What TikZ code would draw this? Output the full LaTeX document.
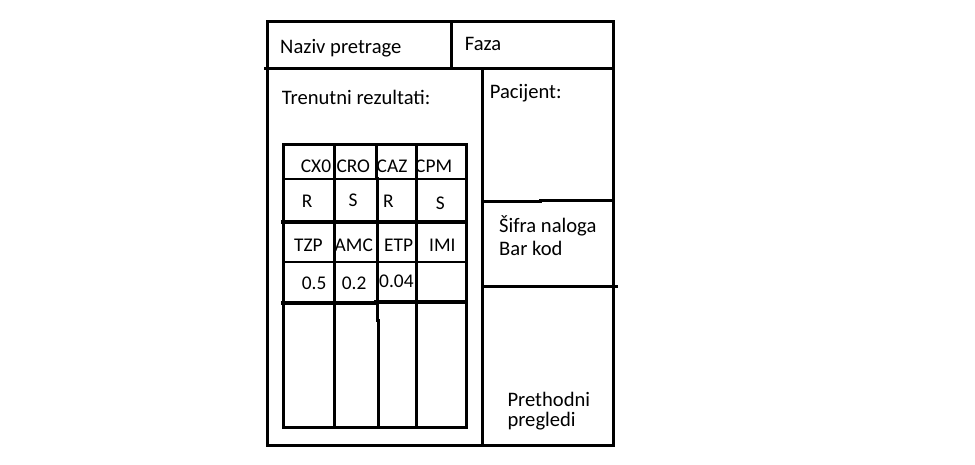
\documentclass[tikz,border=0pt]{standalone}
\usepackage{fontspec}
\setmainfont{Carlito}
\usetikzlibrary{positioning}
\begin{document}
\begin{tikzpicture}[x=1pt, y=-1pt,
                frame/.style={line width=3pt},
                bold row/.style={line width=4.5pt},
                thin row/.style={line width=1.3pt},
                lbl/.style={anchor=base west, inner sep=0pt, font=\fontsize{20.6}{23}\selectfont},
                cell/.style={anchor=base west, inner sep=0pt, font=\fontsize{19.4}{22}\selectfont}]
                \useasboundingbox (0,0) rectangle (975,465);
                \draw [frame] (267,22) rectangle (613,445);
                \draw [frame] (264,69) -- (615,69);
                \draw [frame] (451,22) -- (451,69);
                \draw [frame] (482,69) -- (482,445);
                \draw [frame] (482,202) -- (540,202) -- (540,201) -- (613,201);
                \draw [frame] (482,287) -- (618,287);
                \draw [frame] (283,145) rectangle (466,427);
                \draw [frame] (334,145) -- (334,427);
                \draw [frame] (376,145) -- (376,179) -- (377,179) -- (377,320) -- (378,320) -- (378,427);
                \draw [frame] (416,145) -- (416,427);
                \draw [thin row] (283,179) -- (466,179);
                \draw [bold row] (281,222) -- (466,222);
                \draw [thin row] (283,262) -- (466,262);
                \draw [bold row] (281,303) -- (376,303) -- (376,302) -- (467,302);
                \node [lbl] (naziv) at (280,53.3) {Naziv pretrage};
                \node [lbl] (faza) at (464.7,50.7) {Faza};
                \node [lbl] (trenutni) at (281.7,104.3) {Trenutni rezultati:};
                \node [lbl] (pacijent) at (489.7,99) {Pacijent:};
                \node [cell] (cx0) at (300.7,172.3) {CX0};
                \node [cell] (cro) at (336.3,172.3) {CRO};
                \node [cell] (caz) at (376.5,172.3) {CAZ};
                \node [cell] (cpm) at (415,172.3) {CPM};
                \node [cell] (cx0 r) at (301.7,208) {R};
                \node [cell] (cro s) at (348.3,206.7) {S};
                \node [cell] (caz r) at (383,208) {R};
                \node [cell] (cpm s) at (435.7,210) {S};
                \node [cell] (tzp) at (294,251.7) {TZP};
                \node [cell] (amc) at (334.5,251.7) {AMC};
                \node [cell] (etp) at (384,251.7) {ETP};
                \node [cell] (imi) at (429,251.7) {IMI};
                \node [cell] (tzp val) at (301.7,289.3) {0.5};
                \node [cell] (amc val) at (341.7,289.3) {0.2};
                \node [cell] (etp val) at (379,287.3) {0.04};
                \node [lbl] (sifra) at (499,232.7) {Šifra naloga};
                \node [lbl] (barkod) at ([yshift=-23.3pt]sifra.base west) {Bar kod};
                \node [lbl] (prethodni) at (507.3,406.7) {Prethodni};
                \node [lbl] (pregledi) at ([yshift=-20pt]prethodni.base west) {pregledi};
        \end{tikzpicture}
\end{document}
